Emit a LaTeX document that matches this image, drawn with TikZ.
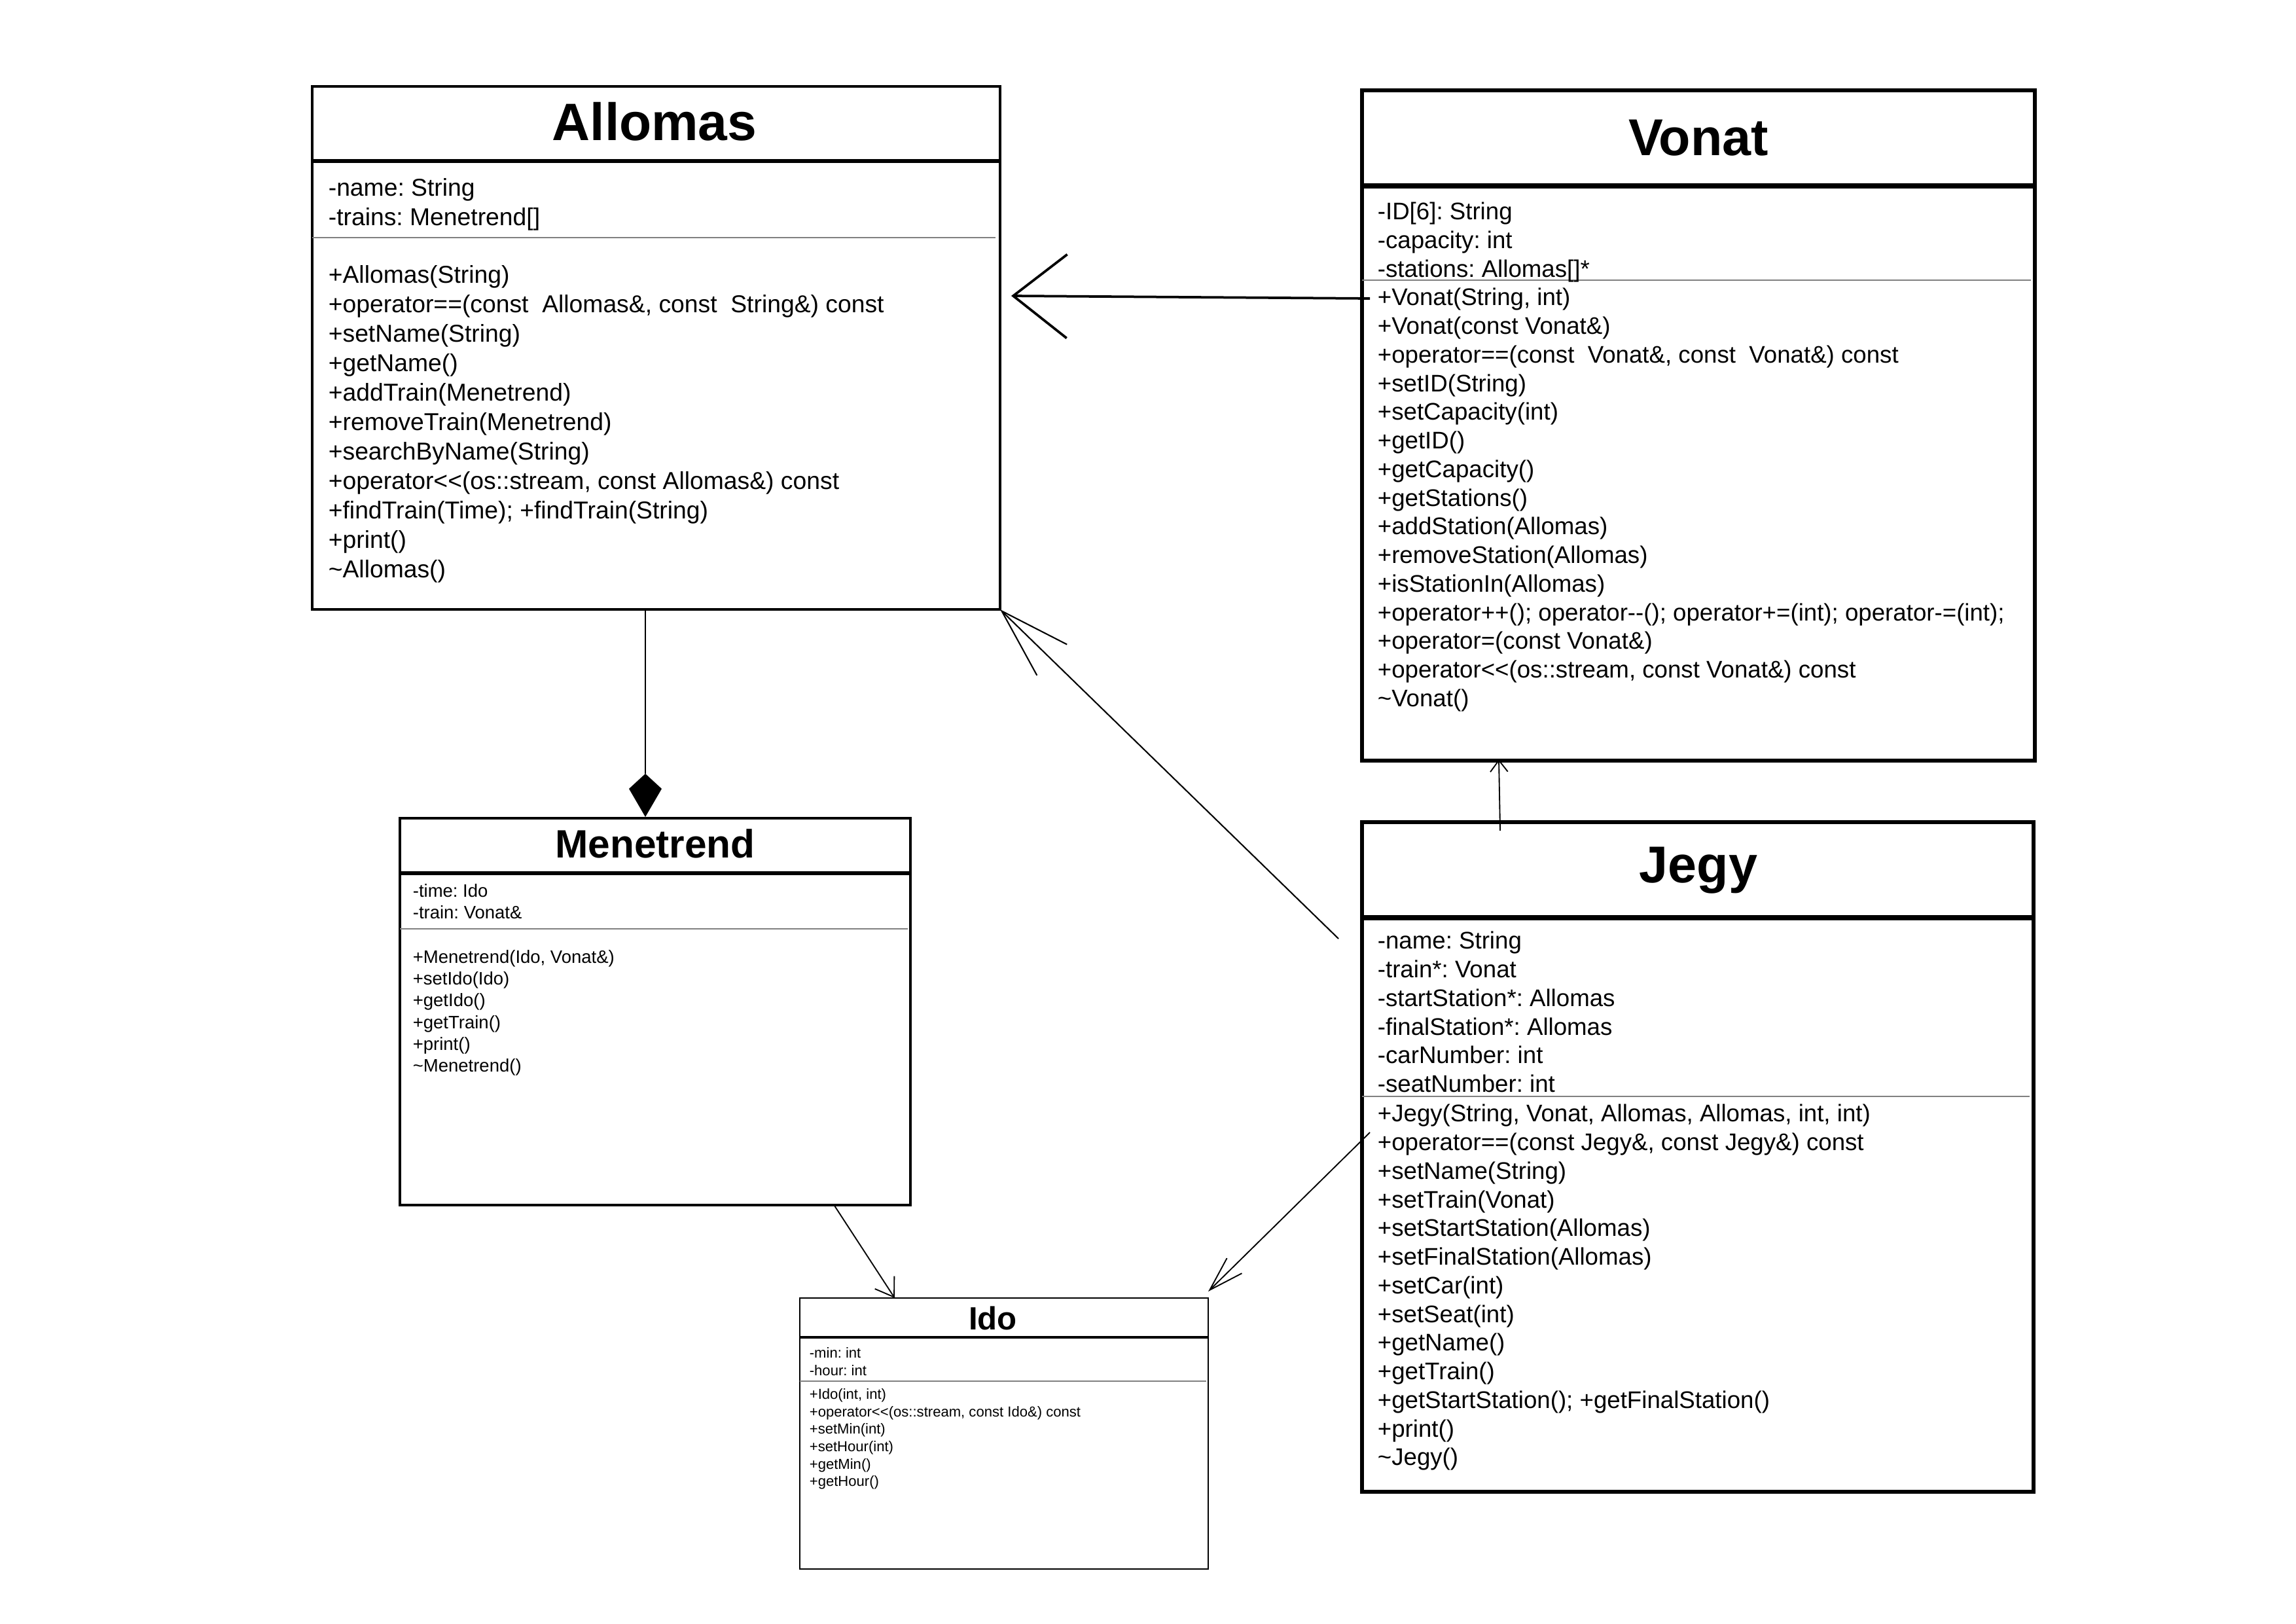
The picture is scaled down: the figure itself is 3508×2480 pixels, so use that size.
\documentclass[tikz,border=0pt]{standalone}
\usepackage{fontspec}
\setmainfont{Liberation Sans}
\frenchspacing
\usetikzlibrary{arrows.meta}
\begin{document}
\begin{tikzpicture}[x=0.24pt,y=-0.24pt,
  box/.style={draw, anchor=north west, inner sep=0pt, outer sep=0pt},
  ttlbig/.style={anchor=base, inner sep=0pt, font=\bfseries\fontsize{19}{22}\selectfont},
  ttlmid/.style={anchor=base, inner sep=0pt, font=\bfseries\fontsize{14.5}{17}\selectfont},
  ttlsmall/.style={anchor=base, inner sep=0pt, font=\bfseries\fontsize{11.8}{14}\selectfont},
  bodyA/.style={anchor=north west, inner sep=0pt, align=left, font=\fontsize{8.95}{10.8}\selectfont},
  bodyB/.style={anchor=north west, inner sep=0pt, align=left, font=\fontsize{8.8}{10.5}\selectfont},
  bodyM/.style={anchor=north west, inner sep=0pt, align=left, font=\fontsize{6.6}{8}\selectfont},
  bodyI/.style={anchor=north west, inner sep=0pt, align=left, font=\fontsize{5.3}{6.4}\selectfont},
  sep/.style={draw=black!50, line width=0.4pt},
  conn/.style={line width=0.45pt}
]
\useasboundingbox[fill=white] (0,0) rectangle (3508,2480);

% ---------------- Allomas ----------------
\node[box, line width=1pt, minimum width=252.24pt, minimum height=191.76pt] (allomas) at (477,132) {};
\draw[line width=1.3pt] (477,246) -- (1528,246);
\draw[sep] (477,363) -- (1521,363);
\node[ttlbig, font=\bfseries\fontsize{19.3}{22}\selectfont] (allomasT) at (1000,214) {Allomas};
\node[bodyA] (allomasA) at (501,267.5) {\strut-name: String\\-trains: Menetrend[]};
\node[bodyA] (allomasM) at (501,400.5) {\strut+Allomas(String)\\
+operator==(const~ Allomas\&, const~ String\&) const\\
+setName(String)\\
+getName()\\
+addTrain(Menetrend)\\
+removeTrain(Menetrend)\\
+searchByName(String)\\
+operator<{}<(os::stream, const Allomas\&) const\\
+findTrain(Time); +findTrain(String)\\
+print()\\
\textasciitilde Allomas()};

% ---------------- Vonat ----------------
\node[box, line width=1.3pt, minimum width=246.72pt, minimum height=245.76pt] (vonat) at (2081,138) {};
\draw[line width=1.7pt] (2081,284) -- (3109,284);
\draw[sep] (2081,428) -- (3103,428);
\node[ttlbig] (vonatT) at (2595,237) {Vonat};
\node[bodyB] (vonatA) at (2104,304.4) {\strut-ID[6]: String\\-capacity: int\\-stations: Allomas[]*};
\node[bodyB] (vonatM) at (2104,435.4) {\strut+Vonat(String, int)\\
+Vonat(const Vonat\&)\\
+operator==(const~ Vonat\&, const~ Vonat\&) const\\
+setID(String)\\
+setCapacity(int)\\
+getID()\\
+getCapacity()\\
+getStations()\\
+addStation(Allomas)\\
+removeStation(Allomas)\\
+isStationIn(Allomas)\\
+operator++(); operator-{}-(); operator+=(int); operator-=(int);\\
+operator=(const Vonat\&)\\
+operator<{}<(os::stream, const Vonat\&) const\\
\textasciitilde Vonat()};

% ---------------- Jegy ----------------
\node[box, line width=1.3pt, minimum width=246.24pt, minimum height=245.52pt] (jegy) at (2081,1256) {};
\draw[line width=1.7pt] (2081,1402) -- (3107,1402);
\draw[sep] (2081,1675) -- (3101,1675);
\node[ttlbig] (jegyT) at (2595,1348) {Jegy};
\node[bodyB] (jegyA) at (2104,1418.4) {\strut-name: String\\
-train*: Vonat\\
-startStation*: Allomas\\
-finalStation*: Allomas\\
-carNumber: int\\
-seatNumber: int};
\node[bodyB] (jegyM) at (2104,1682.4) {\strut+Jegy(String, Vonat, Allomas, Allomas, int, int)\\
+operator==(const Jegy\&, const Jegy\&) const\\
+setName(String)\\
+setTrain(Vonat)\\
+setStartStation(Allomas)\\
+setFinalStation(Allomas)\\
+setCar(int)\\
+setSeat(int)\\
+getName()\\
+getTrain()\\
+getStartStation(); +getFinalStation()\\
+print()\\
\textasciitilde Jegy()};

% ---------------- Menetrend ----------------
\node[box, line width=1pt, minimum width=187.2pt, minimum height=141.84pt] (menetrend) at (611,1250) {};
\draw[line width=1.3pt] (611,1334) -- (1391,1334);
\draw[sep] (611,1419) -- (1387,1419);
\node[ttlmid] (menetrendT) at (1001,1310) {Menetrend};
\node[bodyM] (menetrendA) at (630,1346) {\strut-time: Ido\\-train: Vonat\&};
\node[bodyM] (menetrendM) at (630,1447) {\strut+Menetrend(Ido, Vonat\&)\\
+setIdo(Ido)\\
+getIdo()\\
+getTrain()\\
+print()\\
\textasciitilde Menetrend()};

% ---------------- Ido ----------------
\node[box, line width=0.7pt, minimum width=149.76pt, minimum height=99.36pt] (ido) at (1222,1983) {};
\draw[line width=0.9pt] (1222,2043) -- (1846,2043);
\draw[sep, line width=0.3pt] (1222,2110) -- (1843,2110);
\node[ttlsmall] (idoT) at (1517,2031) {Ido};
\node[bodyI] (idoA) at (1236,2055.3) {\strut-min: int\\-hour: int};
\node[bodyI] (idoM) at (1236,2118) {\strut+Ido(int, int)\\
+operator<{}<(os::stream, const Ido\&) const\\
+setMin(int)\\
+setHour(int)\\
+getMin()\\
+getHour()};

% ---------------- connectors ----------------
\coordinate (vaS) at (2093,456);
\coordinate (vaE) at (1545,452);
\draw[line width=0.9pt, -{Straight Barb[length=19.7pt,width=30.7pt]}] (vaS) -- (vaE);

\coordinate (jaS) at (2045,1434);
\draw[line width=0.5pt, -{Straight Barb[length=25.7pt,width=15.8pt]}] (jaS) -- (allomas.south east);

\coordinate (jvS) at (2292,1269);
\coordinate (jvE) at (2290,1160);
\draw[conn, -{Straight Barb[length=4.2pt,width=6.4pt]}] (jvS) -- (jvE);

\coordinate (miS) at (1275,1842);
\coordinate (miE) at (1367,1983);
\draw[conn, -{Straight Barb[length=6.4pt,width=8.5pt]}] (miS) -- (miE);

\coordinate (jiS) at (2093,1730);
\coordinate (jiE) at (1846,1973);
\draw[conn, -{Straight Barb[length=12.7pt,width=7.8pt]}] (jiS) -- (jiE);

\coordinate (amS) at (986,931);
\coordinate (amD) at (986,1182);
\draw[conn] (amS) -- (amD);
\fill (amD) -- (961,1205) -- (986,1248) -- (1011,1205) -- cycle;
\end{tikzpicture}
\end{document}
